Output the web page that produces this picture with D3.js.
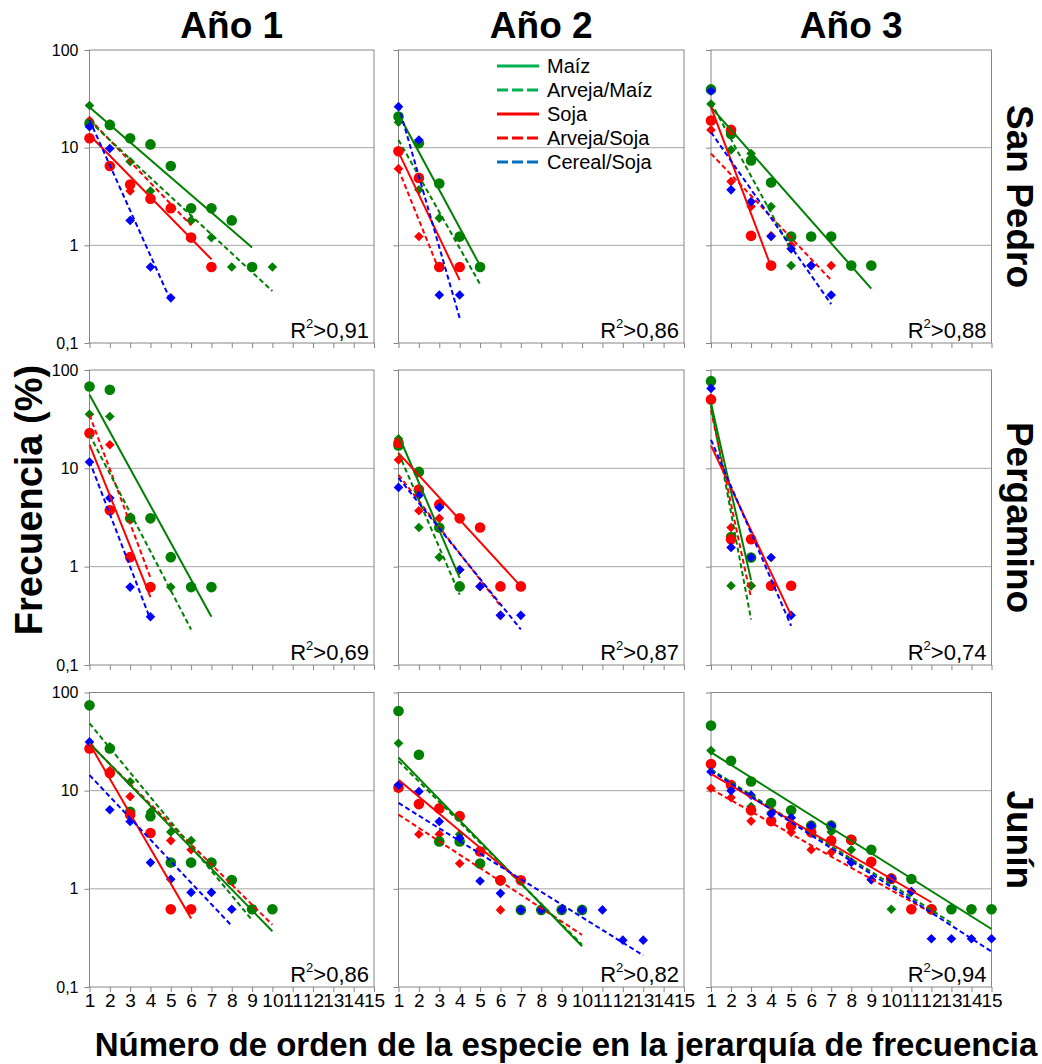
<!DOCTYPE html>
<html>
<head>
<meta charset="utf-8">
<script src="https://cdn.jsdelivr.net/npm/d3@7"></script>
<style>
  body { margin: 0; background: #fff; }
  text { font-family: "Liberation Sans", Arial, sans-serif; }
</style>
</head>
<body>
<script>
// column / row headings
var years = ["Año 1", "Año 2", "Año 3"];
var sites = ["San Pedro", "Pergamino", "Junín"];
var r2Values = ["0,91", "0,86", "0,88", "0,69", "0,87", "0,74", "0,86", "0,82", "0,94"];
var yTicks = [100, 10, 1, 0.1];
var yTickLabels = ["100", "10", "1", "0,1"];
var xTicks = [1, 2, 3, 4, 5, 6, 7, 8, 9, 10, 11, 12, 13, 14, 15];

// frequency (%) by rank, one list per panel
// panel order: San Pedro A1,A2,A3, Pergamino A1,A2,A3, Junín A1,A2,A3
var maiz = [
  [17.7, 17.1, 12.5, 10.8, 6.5, 2.4, 2.4, 1.8, 0.6],
  [20.8, 11.1, 4.3, 1.23, 0.6],
  [39.5, 13.8, 7.4, 4.4, 1.23, 1.23, 1.23, 0.62, 0.62],
  [68, 63, 3.1, 3.1, 1.25, 0.62, 0.62],
  [17.1, 9.2, 2.5, 0.63],
  [77, 2.0, 1.24],
  [74, 26.9, 6.1, 5.5, 1.85, 1.85, 1.85, 1.23, 0.62, 0.62],
  [64.7, 23.2, 3.04, 3.04, 1.81, 1.22, 0.61, 0.61, 0.61, 0.61],
  [46, 20.2, 12.4, 7.5, 6.3, 4.4, 4.4, 3.16, 2.5, 1.27, 1.26, 0.62, 0.62, 0.62, 0.62]
];
var arvejaMaiz = [
  [27, 17, 7.2, 3.6, 2.4, 1.8, 1.2, 0.6, 0.6, 0.6],
  [18.2, 3.7, 1.9, 1.2, 0.6],
  [28, 9.5, 8.7, 2.5, 0.62],
  [35.5, 33.7, 3.1, 0.62, 0.62, 0.62],
  [20, 2.5, 1.25, 0.62],
  [75, 0.64, 0.64],
  [74, 28, 12.3, 6.1, 3.8, 3.1, 1.85, 1.23, 0.62],
  [30.4, 23, 3.04, 3.6, 1.81, 1.22, 0.61, 0.61, 0.61, 0.61],
  [25.6, 11.4, 6.9, 6.0, 5.3, 4.4, 3.8, 2.5, 1.89, 0.62, 1.26, 0.62, 0.62]
];
var soja = [
  [12.5, 6.5, 4.2, 3.0, 2.4, 1.2, 0.6],
  [9.2, 4.9, 0.6, 0.6],
  [19, 15.2, 1.25, 0.62],
  [22.8, 3.75, 1.25, 0.62],
  [18.1, 6.1, 4.3, 3.1, 2.5, 0.63, 0.63],
  [50, 1.9, 1.9, 0.64, 0.64],
  [26.9, 15.1, 5.7, 3.7, 0.62, 0.62],
  [10.8, 7.3, 6.6, 5.5, 2.4, 1.22, 1.22],
  [18.7, 11.4, 6.3, 4.9, 4.4, 3.76, 3.1, 3.16, 1.89, 1.27, 0.62, 0.62]
];
var arvejaSoja = [
  [19, 17.5, 3.6, 3.0, 2.4, 1.8],
  [6.1, 1.23, 0.6],
  [15.2, 4.5, 2.5, 1.25, 1.0, 0.62, 0.62],
  [22.8, 17.4, 3.1, 0.62],
  [12.2, 3.7, 3.1, 0.93, 0.63, 0.32],
  [52, 2.5, 0.64],
  [74, 16, 8.7, 5.5, 3.1, 2.5, 1.85, 1.23, 0.62, 0.62],
  [10.5, 3.6, 3.6, 1.81, 2.4, 0.61, 1.22, 0.61, 0.61, 0.61],
  [10.6, 8.5, 4.9, 4.9, 3.76, 2.5, 2.35, 1.89, 1.24, 1.27, 0.94, 0.62]
];
var cerealSoja = [
  [16.4, 9.8, 1.8, 0.6, 0.29],
  [26.3, 12, 0.31, 0.31],
  [38, 3.7, 2.8, 1.23, 0.92, 0.62, 0.31],
  [11.6, 5.0, 0.62, 0.31],
  [6.4, 5.3, 4.0, 0.93, 0.63, 0.32, 0.32],
  [65, 1.57, 1.24, 1.24, 0.32],
  [31.4, 6.4, 4.85, 1.85, 1.25, 0.92, 0.92, 0.62],
  [11.4, 9.8, 4.85, 3.3, 1.2, 0.9, 0.61, 0.61, 0.61, 0.61, 0.61, 0.30, 0.30],
  [15.6, 10, 9.0, 5.8, 5.3, 4.4, 4.4, 1.86, 1.24, 1.27, 0.94, 0.31, 0.31, 0.31, 0.31]
];

// exponential trend lines: [value at rank 1, value at last rank]
var maizTrend = [[26, 0.95], [22, 0.62], [26, 0.36], [56, 0.31], [21.7, 0.77], [46, 0.73], [30.4, 0.37], [21.8, 0.26], [24.6, 0.39]];
var arvejaMaizTrend = [[18.7, 0.34], [12, 0.4], [29, 0.9], [22, 0.23], [14.3, 0.52], [43, 0.29], [48.5, 0.48], [20, 0.27], [16.5, 0.45]];
var sojaTrend = [[13.5, 0.72], [9, 0.44], [26, 0.6], [17.4, 0.49], [14.3, 0.63], [17, 0.32], [30, 0.5], [12.9, 1.18], [14.8, 0.73]];
var arvejaSojaTrend = [[19.7, 1.6], [6.0, 0.55], [8.7, 0.44], [35, 0.77], [8.6, 0.4], [39, 0.48], [30, 0.43], [5.7, 0.34], [10.4, 0.57]];
var cerealSojaTrend = [[19.2, 0.27], [27, 0.18], [14.4, 0.25], [11.8, 0.29], [8.0, 0.23], [19.5, 0.25], [14.4, 0.42], [7.5, 0.21], [16, 0.23]];

// layout
var colLeft = [89.5, 398.5, 711], colWidth = [284.5, 285.5, 280.5];
var rowTop = [50, 370, 692.5], rowHeight = [293, 295, 294.5];

var svg = d3.select("body").append("svg").attr("width", 1042).attr("height", 1064);

//draw order as in the original: red diamonds, green diamonds, green circles, red circles, blue
var series = [
  {name: "Arveja/Soja", data: arvejaSoja, trend: arvejaSojaTrend, color: "#ff0000", shape: "diamond", dash: "5,3"},
  {name: "Arveja/Maíz", data: arvejaMaiz, trend: arvejaMaizTrend, color: "#008000", shape: "diamond", dash: "5,3"},
  {name: "Maíz", data: maiz, trend: maizTrend, color: "#008000", shape: "circle", dash: null},
  {name: "Soja", data: soja, trend: sojaTrend, color: "#ff0000", shape: "circle", dash: null},
  {name: "Cereal/Soja", data: cerealSoja, trend: cerealSojaTrend, color: "#0000ff", shape: "diamond", dash: "5,3"}
];

function diamond(s) {
  return "M0," + (-s) + "L" + s + ",0L0," + s + "L" + (-s) + ",0Z";
}

for (var p = 0; p < 9; p++) {
  var r = Math.floor(p / 3), c = p % 3;
  var x = d3.scaleLinear().domain([1, 15]).range([colLeft[c], colLeft[c] + colWidth[c]]);
  var y = d3.scaleLog().domain([0.1, 100]).range([rowTop[r] + rowHeight[r], rowTop[r]]);
  var g = svg.append("g");

  g.selectAll(".grid").data([10, 1]).enter().append("line")
    .attr("x1", x(1)).attr("x2", x(15))
    .attr("y1", function (d) { return y(d); }).attr("y2", function (d) { return y(d); })
    .attr("stroke", "#a6a6a6");

  g.append("rect")
    .attr("x", x(1)).attr("y", y(100))
    .attr("width", x(15) - x(1)).attr("height", y(0.1) - y(100))
    .attr("fill", "none").attr("stroke", "#868686");

  var yAxis = d3.axisLeft(y).tickValues(yTicks).tickSize(5).tickSizeOuter(0).tickPadding(6)
    .tickFormat(function (d, i) { return c == 0 ? yTickLabels[i] : ""; });
  var ya = g.append("g").attr("transform", "translate(" + x(1) + ",0)").call(yAxis);
  ya.attr("color", "#868686").attr("font-family", null).attr("font-size", null);
  ya.select(".domain").remove();
  ya.selectAll("text").attr("fill", "#000").style("font-size", "16px");

  var xAxis = d3.axisBottom(x).tickValues(xTicks).tickSize(5).tickSizeOuter(0).tickPadding(2)
    .tickFormat(function (d) { return r == 2 ? d : ""; });
  var xa = g.append("g").attr("transform", "translate(0," + y(0.1) + ")").call(xAxis);
  xa.attr("color", "#868686").attr("font-family", null).attr("font-size", null);
  xa.select(".domain").remove();
  xa.selectAll("text").attr("fill", "#000").style("font-size", "19px");

  // markers
  series.forEach(function (s) {
    var pts = s.data[p];
    if (s.shape == "circle") {
      g.selectAll(null).data(pts).enter().append("circle")
        .attr("cx", function (d, i) { return x(i + 1); })
        .attr("cy", function (d) { return y(d); })
        .attr("r", 5.3).attr("fill", s.color);
    } else {
      g.selectAll(null).data(pts).enter().append("path")
        .attr("d", diamond(4.8))
        .attr("transform", function (d, i) { return "translate(" + x(i + 1) + "," + y(d) + ")"; })
        .attr("fill", s.color);
    }
  });

  // trend lines
  series.forEach(function (s) {
    var n = s.data[p].length;
    var t = s.trend[p];
    g.append("line")
      .attr("x1", x(1)).attr("y1", y(t[0]))
      .attr("x2", x(n)).attr("y2", y(t[1]))
      .attr("stroke", s.color).attr("stroke-width", 2)
      .attr("stroke-dasharray", s.dash);
  });

  // R2 label
  var rt = g.append("text")
    .attr("x", x(15) - 5).attr("y", y(0.1) - 5)
    .attr("text-anchor", "end").style("font-size", "22px");
  rt.append("tspan").text("R");
  rt.append("tspan").attr("dy", -10).style("font-size", "13px").text("2");
  rt.append("tspan").attr("dy", 10).text(">" + r2Values[p]);
}

// legend in the San Pedro / Año 2 panel
var legendNames = ["Maíz", "Arveja/Maíz", "Soja", "Arveja/Soja", "Cereal/Soja"];
var legendColors = ["#00b050", "#00b050", "#ff0000", "#ff0000", "#0070c0"];
var legendDash = [null, "11,4", null, "11,4", "11,4"];
var leg = svg.append("g").attr("transform", "translate(497,66)");
legendNames.forEach(function (nm, i) {
  leg.append("line").attr("x1", 0).attr("x2", 42).attr("y1", i * 24).attr("y2", i * 24)
    .attr("stroke", legendColors[i]).attr("stroke-width", 3).attr("stroke-dasharray", legendDash[i]);
  leg.append("text").attr("x", 50).attr("y", i * 24).attr("dy", "0.35em")
    .style("font-size", "20px").text(nm);
});

// column titles
years.forEach(function (t, c) {
  svg.append("text").attr("x", colLeft[c] + colWidth[c] / 2).attr("y", 38)
    .attr("text-anchor", "middle").style("font-size", "37px").style("font-weight", "bold").text(t);
});

// row titles
sites.forEach(function (t, r) {
  var cy = rowTop[r] + rowHeight[r] / 2;
  svg.append("text").attr("transform", "translate(1007," + cy + ") rotate(90)")
    .attr("text-anchor", "middle").style("font-size", "37px").style("font-weight", "bold").text(t);
});

svg.append("text").attr("transform", "translate(42,500) rotate(-90)")
  .attr("text-anchor", "middle").style("font-size", "38px").style("font-weight", "bold")
  .text("Frecuencia (%)");

svg.append("text").attr("x", 566).attr("y", 1056)
  .attr("text-anchor", "middle").style("font-size", "33px").style("font-weight", "bold")
  .text("Número de orden de la especie en la jerarquía de frecuencia");
</script>
</body>
</html>
